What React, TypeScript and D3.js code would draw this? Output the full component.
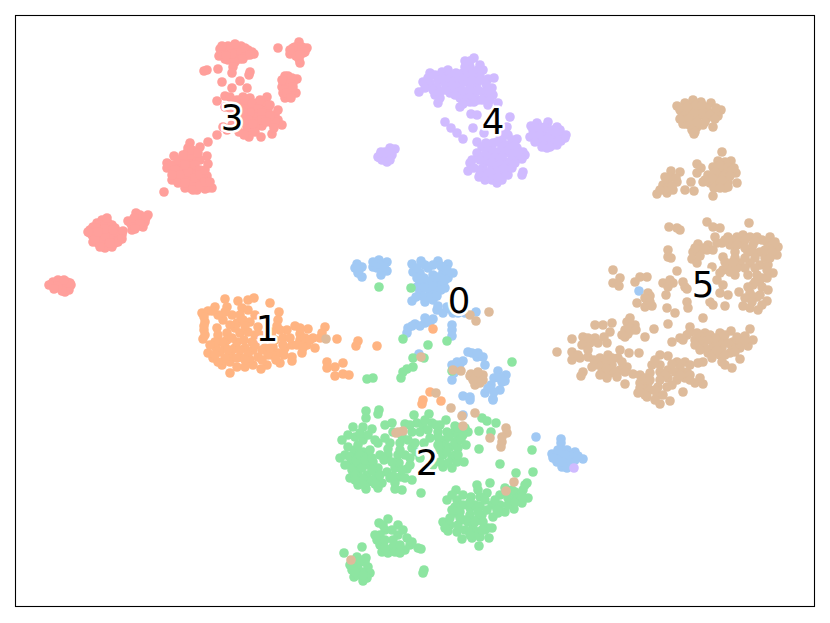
import * as d3 from "d3";
import { useEffect, useRef } from "react";

type Pt = [number, number];

// embedding positions, one list per cluster
const cluster0: Pt[] = [
  [357,264],[359,270],[362,277],[362,267],[358,273],[373,267],[379,260],[387,262],[380,265],[387,271],[381,275],[377,268],[378,264],[384,267],[373,262],[355,268],
  [412,264],[421,261],[438,261],[448,264],[453,273],[413,272],[428,268],[420,273],[433,275],[443,272],[448,278],[440,283],[420,283],[428,282],[420,292],[430,293],[435,290],[412,301],[425,302],[433,300],[445,288],[437,310],[443,313],[453,313],[447,307],[476,312],[465,313],
  [417,268],[425,265],[433,265],[441,266],[417,278],[424,278],[432,280],[438,277],[445,280],[417,287],[425,288],[433,286],[441,290],[428,297],[422,296],[437,296],[416,297],[447,270],[438,306],[450,309],[458,313],
  [425,318],[433,319],[425,323],[415,324],[408,328],[407,333],[420,326],[412,326],[430,322],[452,325],[452,330],[452,336],[419,354],
  [472,353],[477,357],[483,357],[485,365],[463,361],[452,365],[452,380],[454,373],[498,371],[506,375],[502,382],[491,385],[500,390],[485,393],[493,399],[463,396],[470,397],[470,400],[493,400],[463,415],
  [478,353],[468,352],[460,364],[455,369],[457,362],[494,378],[500,378],[494,392],[488,388],[505,381],
  [536,437],[561,439],[561,443],[552,454],[567,450],[575,452],[583,459],[560,455],[557,462],[567,460],[562,467],[567,468],[575,460],[572,455],[555,458],[563,450],[570,456],[565,455],[558,450],[572,463],[578,456],[562,462],[553,458],[639,291],
];
const cluster1: Pt[] = [
  [225,299],[238,301],[248,300],[254,298],[270,303],[279,312],[202,313],[208,311],[215,307],[227,307],[242,308],[248,310],[205,322],[204,330],[203,339],[223,320],[232,315],[237,323],[250,322],[217,328],[218,335],[227,333],[240,333],[248,332],[278,320],[277,326],[287,330],[295,326],[300,334],[308,329],[325,327],[322,333],[313,338],[307,345],[315,348],[302,353],[292,357],[292,361],[292,345],[283,338],[285,348],[278,353],[280,363],[272,355],[267,365],[261,369],[253,365],[245,367],[237,367],[230,373],[222,365],[213,358],[208,353],[216,348],[225,347],[230,355],[230,362],[240,357],[250,360],[258,357],[235,348],[245,348],[253,350],[265,348],[227,340],[237,342],[252,342],[273,347],[300,340],[305,338],[260,335],[268,338],[232,350],[244,340],
  [225,312],[218,315],[240,315],[243,320],[255,315],[235,328],[230,325],[245,326],[258,327],[222,342],[215,342],[220,352],[228,350],[240,350],[248,355],[255,345],[262,350],[268,355],[275,340],[283,345],[290,338],[297,345],[303,348],[310,340],[320,338],[255,335],[262,360],[270,348],[237,358],[225,358],[245,360],[232,338],[215,355],[218,362],[272,332],[280,330],[300,328],[284,355],[276,360],[210,345],[204,317],[205,335],[204,326],[212,311],
  [337,339],[358,341],[356,346],[377,346],[327,362],[327,368],[335,367],[343,363],[335,376],[343,374],[349,375],[433,329],[430,392],[423,400],[422,404],[441,401],
];
const cluster2: Pt[] = [
  [379,287],[411,288],[403,339],[428,345],[447,341],[512,362],[413,358],[424,358],[413,367],[407,369],[403,372],[401,378],[367,379],[373,378],[452,371],
  [366,411],[379,410],[378,414],[366,418],[353,427],[363,427],[372,429],[348,435],[342,440],[363,440],[378,443],[390,443],[400,443],[385,425],[392,423],[405,424],[414,415],[417,423],[429,414],[432,423],[446,420],[423,425],[438,432],[424,443],[455,426],[458,435],[468,432],[479,431],[482,418],[487,421],[496,423],[491,432],[479,449],[500,464],[532,450],[533,472],[516,473],
  [340,458],[348,447],[353,455],[350,465],[350,478],[358,485],[366,489],[378,488],[382,483],[363,452],[368,455],[360,462],[368,465],[358,472],[367,475],[375,472],[377,480],[355,467],[380,455],[388,455],[387,472],[395,468],[398,455],[399,463],[407,469],[400,477],[395,483],[402,490],[395,489],[412,480],[421,493],[412,448],[410,458],[390,478],[368,482],[373,462],[362,468],[378,468],[355,450],[358,458],[372,470],
  [345,455],[350,457],[356,460],[352,470],[345,465],[360,455],[365,460],[372,458],[355,475],[362,478],[372,480],[362,484],[375,484],[355,480],[380,475],[370,450],[358,445],[355,437],[360,433],[368,435],[375,440],[385,438],[393,432],[402,436],[412,432],[420,432],[428,430],[388,449],[384,460],[392,462],[402,470],[393,476],[405,455],[415,443],[408,440],[400,450],[410,465],[405,478],[416,452],
  [445,440],[453,433],[463,435],[440,443],[450,447],[458,448],[443,455],[452,458],[457,462],[464,462],[443,467],[448,463],[438,437],[447,432],[455,442],[445,448],[433,465],[420,458],[430,438],[438,445],[440,450],[449,437],[461,440],[455,455],[447,452],[440,462],[452,468],[458,455],[466,445],[465,428],[458,428],[440,425],[425,420],[436,425],[410,425],
  [456,490],[447,500],[457,500],[463,505],[455,507],[477,485],[490,483],[487,493],[471,497],[480,497],[480,506],[492,505],[500,495],[507,493],[515,492],[527,483],[523,490],[528,498],[522,503],[514,509],[513,500],[505,512],[498,513],[493,517],[470,508],[470,515],[482,515],[477,520],[468,522],[455,513],[443,522],[450,518],[448,531],[457,532],[458,525],[450,525],[473,528],[485,530],[488,528],[462,539],[472,538],[480,537],[489,538],[479,546],[477,532],[483,522],[508,498],[518,497],
  [463,495],[452,495],[460,512],[475,505],[487,510],[478,512],[470,502],[465,520],[465,530],[475,522],[470,535],[460,518],[452,510],[445,528],[482,530],[492,528],[500,505],[508,505],[515,502],[520,495],[512,490],[522,497],[525,485],[505,488],[495,500],[485,500],[478,490],[497,510],
  [388,519],[379,523],[398,525],[385,530],[380,535],[377,540],[380,545],[382,552],[388,553],[393,547],[395,552],[405,550],[407,538],[398,535],[410,545],[418,548],[421,549],[424,570],[423,573],[383,525],[392,530],[375,535],[385,548],[400,545],[393,540],[403,530],[385,540],[400,553],[412,542],
  [344,553],[362,547],[366,558],[357,557],[368,567],[370,573],[367,578],[363,581],[354,577],[352,570],[358,565],[362,572],[353,563],[358,575],[358,570],[365,562],[363,575],[360,560],[355,572],[350,565],
];
const cluster3: Pt[] = [
  [220,49],[228,46],[241,46],[248,50],[254,54],[219,56],[227,53],[233,50],[240,52],[247,55],[225,59],[233,58],[240,59],[224,51],[236,48],[244,52],[230,55],[236,55],[228,60],[235,62],[242,56],[222,54],[230,49],[238,50],[245,48],[252,52],[232,54],[226,56],[243,59],[222,46],[235,44],[250,55],
  [233,67],[232,73],[240,81],[222,82],[250,72],[249,75],[218,69],[207,70],[204,71],[232,88],[247,88],[225,96],[217,101],
  [278,48],[299,42],[307,48],[302,47],[293,53],[290,54],[297,52],[303,53],[300,63],[299,59],[298,47],[295,47],[301,50],[293,48],[296,56],[290,50],[305,52],[300,55],
  [285,76],[297,79],[293,83],[283,82],[282,87],[288,87],[296,93],[285,98],[290,94],[283,93],[287,80],[292,90],[288,76],[292,78],[286,85],[290,84],[284,90],[287,93],[293,87],[291,98],[282,80],
  [243,97],[250,98],[257,103],[267,97],[265,105],[247,107],[253,110],[260,110],[268,110],[275,115],[278,120],[282,125],[272,123],[262,126],[272,134],[261,137],[249,137],[247,130],[245,120],[252,118],[260,118],[265,117],[239,132],[243,123],[248,127],[230,97],[237,100],[243,103],[247,113],[225,107],[223,127],[227,130],[217,135],[208,142],[238,112],[275,122],[255,115],[230,108],[232,125],
  [245,100],[252,103],[258,108],[262,113],[256,122],[250,113],[240,108],[240,118],[248,120],[255,128],[262,120],[270,116],[266,122],[278,110],[243,113],[235,103],[270,105],[274,128],[260,100],[255,132],[238,125],[244,135],[253,124],
  [190,143],[200,147],[207,156],[208,164],[174,156],[167,163],[167,168],[173,173],[172,180],[164,192],[180,163],[187,153],[193,160],[183,168],[190,168],[197,172],[207,176],[203,180],[208,188],[212,188],[205,189],[197,190],[190,188],[185,188],[183,180],[178,177],[190,180],[197,182],[200,160],[188,160],[178,170],[185,175],[193,175],[202,185],[193,185],[188,148],[187,163],[182,162],
  [172,165],[178,160],[185,158],[190,155],[195,165],[200,170],[175,170],[180,175],[188,172],[195,178],[200,175],[205,170],[172,175],[178,183],[185,183],[193,190],[200,186],[183,155],[185,165],[192,150],[198,153],[205,182],[210,182],
  [105,220],[97,223],[90,230],[93,242],[105,248],[115,243],[122,235],[115,228],[108,223],[102,230],[108,233],[98,237],[107,242],[113,235],[95,232],[102,220],[93,227],[90,233],[98,243],[118,232],[119,238],[110,228],[102,238],[112,247],
  [100,225],[105,226],[112,225],[92,235],[96,228],[103,234],[110,238],[116,232],[100,242],[105,236],[95,240],[118,242],[110,243],[100,247],[88,232],[123,231],[122,239],[105,229],[113,230],[107,218],[98,232],
  [128,221],[136,213],[148,215],[143,227],[132,230],[137,220],[142,220],[145,222],[133,225],[138,226],[131,224],[140,215],[146,218],[134,218],[140,224],[135,229],
  [52,284],[58,280],[67,282],[71,285],[69,290],[65,292],[60,288],[55,287],[62,283],[53,282],[65,287],[57,283],[62,287],[67,286],[62,291],[70,283],[58,286],[49,285],[64,280],[54,289],
];
const cluster4: Pt[] = [
  [380,155],[390,148],[395,149],[387,162],[392,155],[380,158],[385,152],[378,157],[388,157],[383,157],[382,160],[386,155],[391,151],[381,152],[392,150],[385,160],[390,160],
  [430,73],[419,92],[423,82],[442,72],[448,70],[438,80],[445,83],[430,83],[437,87],[435,95],[438,103],[440,98],[448,75],[425,88],[428,78],[435,75],[442,78],[433,90],[440,92],[450,78],
  [465,61],[474,58],[480,65],[483,70],[470,67],[463,73],[473,75],[467,82],[477,83],[455,80],[494,78],[488,79],[492,88],[493,95],[488,105],[498,103],[483,92],[475,93],[467,95],[457,90],[450,93],[460,98],[460,107],[470,102],[478,100],[487,97],[462,82],[470,75],[477,72],
  [465,67],[470,61],[478,70],[465,75],[472,80],[480,76],[456,86],[462,90],[470,88],[478,90],[486,84],[488,90],[470,97],[482,100],[465,102],[455,95],[452,85],[480,80],[490,100],[463,104],[474,102],[445,90],[460,77],[456,73],
  [471,114],[477,115],[445,122],[451,128],[457,133],[463,139],[473,128],[510,117],[484,133],
  [507,127],[508,135],[517,139],[523,152],[525,155],[477,142],[482,147],[477,153],[493,143],[502,140],[510,145],[517,148],[497,152],[505,153],[512,155],[520,157],[522,159],[490,158],[498,160],[507,162],[485,162],[492,167],[500,168],[508,168],[483,168],[470,163],[468,171],[479,177],[488,177],[497,183],[492,180],[503,175],[523,172],[522,175],[480,170],[495,175],[485,173],[502,147],[492,150],
  [500,135],[497,142],[505,145],[512,140],[508,150],[515,152],[502,157],[495,157],[488,150],[485,155],[480,160],[492,162],[500,164],[512,160],[518,152],[480,175],[485,180],[495,170],[502,180],[508,175],[512,168],[515,163],[474,168],[472,160],[490,172],[486,143],[504,168],[498,177],[505,132],[500,128],[515,145],
  [537,123],[548,122],[531,126],[557,127],[562,135],[557,145],[547,148],[542,147],[530,137],[537,132],[543,133],[550,135],[557,137],[537,138],[547,142],[560,130],[552,140],[542,140],[533,130],[566,135],[540,127],[535,127],[545,127],[552,130],[556,132],[533,135],[540,135],[548,138],[553,145],[561,141],[535,142],[544,145],[550,147],[565,138],[558,141],
  [574,468],
];
const cluster5: Pt[] = [
  [677,106],[693,100],[685,103],[701,102],[711,103],[721,110],[718,116],[713,127],[694,134],[683,124],[686,124],[697,127],[703,125],[682,113],[690,110],[698,108],[707,110],[713,113],[687,117],[697,117],[707,118],[700,115],[692,105],[705,107],
  [680,110],[685,115],[690,118],[695,112],[703,112],[710,115],[716,108],[705,122],[690,125],[697,122],[696,105],[702,105],[687,107],[692,130],[680,119],[715,119],[695,132],
  [722,152],[718,161],[731,161],[713,167],[722,168],[734,168],[736,173],[727,173],[718,175],[708,175],[703,182],[710,183],[718,182],[725,188],[737,183],[713,196],[717,187],[697,164],[701,168],[697,173],[691,182],[694,191],[685,190],[680,172],[671,171],[668,180],[677,182],[663,185],[657,194],[667,193],[673,190],[668,187],[728,182],
  [725,162],[720,165],[728,167],[732,170],[715,172],[725,175],[730,176],[712,178],[722,180],[714,188],[705,180],[728,187],[720,188],[670,177],[672,186],[664,190],[676,178],[665,177],[660,190],
  [669,227],[680,230],[677,228],[707,222],[713,227],[720,228],[749,223],
  [668,250],[668,257],[671,258],[698,244],[693,252],[692,259],[697,263],[708,245],[717,243],[715,237],[722,243],[728,237],[737,237],[743,235],[757,237],[770,237],[767,242],[753,245],[748,252],[735,252],[723,257],[740,263],[750,263],[730,265],[723,270],[735,275],[745,268],[760,265],[768,265],[773,273],[777,255],[778,247],[772,245],[760,252],[757,275],[767,278],[753,285],[762,287],[768,290],[750,293],[757,297],[767,301],[758,310],[750,308],[743,306],[739,292],[725,306],[728,295],[720,293],[713,305],[710,302],[712,267],[717,280],[723,285],[720,273],[707,250],[753,297],[760,280],[740,243],[730,245],[713,250],
  [700,252],[704,248],[725,240],[733,240],[745,240],[750,237],[762,240],[755,241],[775,242],[745,248],[737,245],[753,252],[765,250],[772,252],[755,258],[765,258],[745,258],[735,258],[725,262],[730,272],[737,268],[755,268],[767,270],[748,275],[755,282],[762,278],[760,295],[748,287],[745,298],[752,302],[762,305],[770,258],[733,262],[700,256],[695,248],
  [613,270],[620,278],[613,283],[619,286],[635,282],[640,277],[647,277],[648,293],[647,300],[637,303],[645,307],[652,306],[663,283],[673,283],[666,295],[668,287],[683,282],[687,289],[677,271],[687,302],[688,308],[667,308],[675,313],[703,318],[670,280],[685,287],[650,296],[645,298],[650,302],
  [668,324],[654,329],[645,337],[627,322],[635,325],[625,330],[632,330],[625,337],[612,323],[603,325],[595,325],[610,332],[630,328],[628,334],[636,330],[622,335],[630,318],
  [572,339],[583,337],[582,345],[595,338],[590,343],[598,343],[607,343],[557,352],[572,352],[572,360],[580,358],[588,357],[592,367],[583,372],[581,376],[600,358],[608,355],[620,350],[629,353],[639,353],[602,372],[610,373],[612,365],[620,370],[618,358],[627,367],[603,365],[633,374],[625,384],
  [585,343],[588,350],[605,362],[612,358],[615,372],[606,368],[622,362],[617,377],[625,372],[607,378],[598,365],[600,375],[588,338],[604,337],[578,355],[594,360],
  [660,355],[668,356],[677,362],[652,365],[660,372],[668,370],[685,362],[687,372],[640,375],[640,383],[648,383],[638,393],[647,397],[657,395],[660,404],[670,401],[683,392],[658,387],[668,378],[677,380],[667,387],[685,378],[695,383],[703,384],[700,378],[650,373],[643,388],
  [660,365],[672,364],[680,368],[690,365],[665,375],[675,372],[680,375],[690,375],[672,385],[660,380],[645,378],[650,390],[645,395],[655,390],[640,388],[663,395],[655,400],[650,380],[690,380],[655,360],[640,392],
  [672,342],[680,338],[690,327],[687,335],[695,340],[705,333],[720,333],[731,331],[750,329],[753,340],[748,346],[740,342],[712,340],[723,340],[733,342],[703,343],[695,345],[713,347],[722,348],[732,347],[740,348],[708,353],[720,355],[730,353],[740,359],[732,368],[722,362],[703,362],[698,363],[717,342],
  [690,332],[700,336],[710,335],[697,333],[715,338],[725,335],[728,343],[737,337],[745,336],[705,348],[715,353],[725,355],[712,358],[735,352],[725,365],[717,350],[700,350],[745,340],[683,340],[708,340],
  [326,339],[470,315],[476,321],[489,312],[421,357],[453,370],[461,371],[471,374],[483,375],[477,378],[475,385],[480,383],[477,383],[483,380],[470,376],[478,372],[473,380],[436,393],[451,408],[462,416],[475,413],[463,426],[506,428],[507,433],[502,442],[501,447],[502,437],[490,438],[396,433],[403,431],[398,432],[514,482],[506,491],[351,560],
];

const clusters = [cluster0, cluster1, cluster2, cluster3, cluster4, cluster5];
const palette = ["#a1c9f4", "#ffb482", "#8de5a1", "#ff9f9b", "#d0bbff", "#debb9b"];
const labelNames = ["0", "1", "2", "3", "4", "5"];
const labelX = [459, 267, 427, 232, 493, 703];
const labelY = [300, 328, 462, 117, 121, 284];

export default function App() {
  const gRef = useRef<SVGGElement>(null);

  const svgWidth = 830,
    svgHeight = 623,
    margin = { top: 15.5, right: 15.5, bottom: 16.5, left: 15.5 };

  useEffect(() => {
    const g = d3.select(gRef.current);
    g.selectAll("*").remove();

    const x = d3.scaleLinear().domain([15.5, 814.5]).range([margin.left, svgWidth - margin.right]);
    const y = d3.scaleLinear().domain([606.5, 15.5]).range([svgHeight - margin.bottom, margin.top]);

    clusters.forEach((pts, i) => {
      g.append("g")
        .selectAll("circle")
        .data(pts)
        .join("circle")
        .attr("cx", (d) => x(d[0]))
        .attr("cy", (d) => y(d[1]))
        .attr("r", 4.8)
        .attr("fill", palette[i]);
    });

    g.append("g")
      .selectAll("text")
      .data(labelNames)
      .join("text")
      .attr("x", (_, i) => x(labelX[i]))
      .attr("y", (_, i) => y(labelY[i]))
      .attr("text-anchor", "middle")
      .attr("dominant-baseline", "central")
      .attr("font-family", "DejaVu Sans")
      .attr("font-size", 35.5)
      .attr("stroke", "white")
      .attr("stroke-width", 5)
      .attr("stroke-linejoin", "round")
      .attr("paint-order", "stroke")
      .attr("fill", "black")
      .text((d) => d);

    g.append("rect")
      .attr("x", margin.left)
      .attr("y", margin.top)
      .attr("width", svgWidth - margin.left - margin.right)
      .attr("height", svgHeight - margin.top - margin.bottom)
      .attr("fill", "none")
      .attr("stroke", "black")
      .attr("stroke-width", 1.1);
  }, []);

  return (
    <svg
      width={svgWidth}
      height={svgHeight}
      style={{ position: "absolute", left: 0, top: 0, background: "white" }}
    >
      <g ref={gRef}></g>
    </svg>
  );
}
